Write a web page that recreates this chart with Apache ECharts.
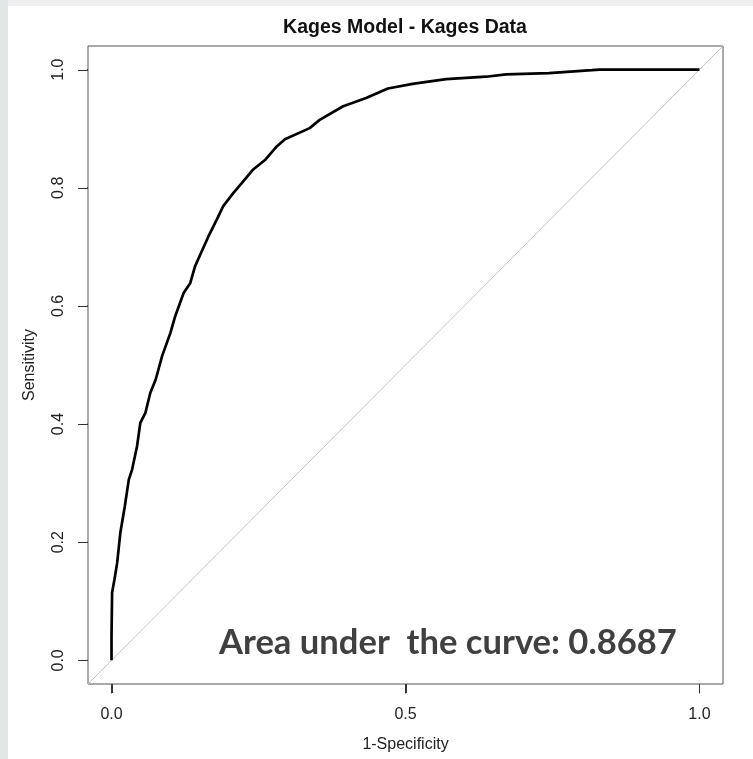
<!DOCTYPE html>
<html>
<head>
<meta charset="utf-8">
<script src="https://cdn.jsdelivr.net/npm/echarts@6/dist/echarts.min.js"></script>
<style>html,body{margin:0;padding:0;background:#fff;}#c{width:753px;height:759px;}</style>
</head>
<body>
<div id="c"></div>
<script>
// ROC curve
const fpr = [0, 0, 0.001, 0.005, 0.0096, 0.015, 0.0226, 0.0294, 0.035, 0.0435, 0.049, 0.0576, 0.066, 0.075, 0.086, 0.100, 0.1085, 0.1226, 0.134, 0.142, 0.151, 0.165, 0.179, 0.190, 0.207, 0.2215, 0.241, 0.261, 0.281, 0.295, 0.337, 0.354, 0.394, 0.433, 0.470, 0.512, 0.569, 0.637, 0.671, 0.744, 0.817, 0.83, 1.0];
const tpr = [0, 0.041, 0.115, 0.137, 0.165, 0.216, 0.261, 0.306, 0.323, 0.363, 0.402, 0.419, 0.453, 0.475, 0.515, 0.554, 0.583, 0.622, 0.639, 0.667, 0.687, 0.718, 0.746, 0.769, 0.791, 0.808, 0.831, 0.847, 0.870, 0.882, 0.901, 0.915, 0.938, 0.952, 0.968, 0.976, 0.984, 0.988, 0.992, 0.994, 0.999, 1.0, 1.0];
const diagX = [-0.04, 1.04];
const diagY = [-0.04, 1.04];
const tickValues = [0, 0.5, 1];
const yTickValues = [0, 0.2, 0.4, 0.6, 0.8, 1.0];
const titleText = 'Kages Model - Kages Data';
const xName = '1-Specificity';
const yName = 'Sensitivity';
const aucText = 'Area under  the curve: 0.8687';

const AX_MIN = -0.04, AX_MAX = 1.04;
const TICK_LEN = 0.016; // outward tick length, in axis units
const chart = echarts.init(document.getElementById('c'), null, {renderer: 'canvas'});
const labelFont = {fontFamily: 'Liberation Sans, Arial, sans-serif', fontSize: 16, color: '#222'};

const tickSeries = tickValues.map(v => ({
  type: 'line', data: [[v, AX_MIN], [v, AX_MIN - TICK_LEN]], showSymbol: false, clip: false, silent: true,
  lineStyle: {color: '#333', width: 1}, z: 5
})).concat(yTickValues.map(v => ({
  type: 'line', data: [[AX_MIN, v], [AX_MIN - TICK_LEN, v]], showSymbol: false, clip: false, silent: true,
  lineStyle: {color: '#333', width: 1}, z: 5
})));

function buildOption(extraGraphic) {
  return {
    animation: false,
    backgroundColor: '#ffffff',
    grid: {left: 88, top: 46, right: 30, bottom: 75, show: true, borderColor: '#555', borderWidth: 1, backgroundColor: 'transparent'},
    xAxis: {
      type: 'value', min: AX_MIN, max: AX_MAX,
      axisLine: {show: false, onZero: false},
      splitLine: {show: false},
      axisTick: {show: false},
      axisLabel: Object.assign({margin: 23, customValues: tickValues, formatter: v => v.toFixed(1)}, labelFont),
      name: xName, nameLocation: 'middle', nameGap: 53,
      nameTextStyle: {fontFamily: 'Liberation Sans, Arial, sans-serif', fontSize: 16, color: '#222'}
    },
    yAxis: {
      type: 'value', min: AX_MIN, max: AX_MAX,
      axisLine: {show: false, onZero: false},
      splitLine: {show: false},
      axisTick: {show: false},
      axisLabel: Object.assign({margin: 21, rotate: 90, customValues: yTickValues, formatter: v => v.toFixed(1)}, labelFont),
      name: yName, nameLocation: 'middle', nameGap: 50, nameRotate: 90,
      nameTextStyle: {fontFamily: 'Liberation Sans, Arial, sans-serif', fontSize: 16, color: '#222'}
    },
    graphic: {
      elements: [
        {type: 'rect', shape: {x: 0, y: 0, width: 753, height: 6}, style: {fill: '#eef0f0'}, silent: true, z: -10},
        {type: 'rect', shape: {x: 0, y: 0, width: 8, height: 759}, style: {fill: '#e3e6e6'}, silent: true, z: -10},
        {type: 'text', x: 405, y: 28, style: {text: titleText, fontFamily: 'Liberation Sans, Arial, sans-serif', fontWeight: 'bold', fontSize: 19.5, fill: '#111', textAlign: 'center', textVerticalAlign: 'middle'}},
        {type: 'text', x: 219, y: 643, style: {text: aucText, fontFamily: 'Lato, sans-serif', fontWeight: 'bold', fontSize: 34.6, fill: '#404040', textAlign: 'left', textVerticalAlign: 'middle'}, z: 10}
      ].concat(extraGraphic)
    },
    series: [
      {type: 'line', data: diagX.map((x, i) => [x, diagY[i]]), showSymbol: false, lineStyle: {color: '#c4c4c4', width: 1}, clip: true, silent: true},
      {type: 'line', data: fpr.map((x, i) => [x, tpr[i]]), showSymbol: false, lineStyle: {color: '#000', width: 2.7}, clip: true, silent: true}
    ].concat(tickSeries)
  };
}

chart.setOption(buildOption([]));

// Backup tick marks placed through the chart's own scales
const tickGraphics = [];
tickValues.forEach(v => {
  const p = chart.convertToPixel({xAxisIndex: 0, yAxisIndex: 0}, [v, AX_MIN]);
  if (p && isFinite(p[0]) && isFinite(p[1])) {
    const x = Math.round(p[0]) + 0.5, y = Math.round(p[1]);
    tickGraphics.push({type: 'line', shape: {x1: x, y1: y, x2: x, y2: y + 9}, style: {stroke: '#333', lineWidth: 1}, silent: true, z: 20});
  }
});
yTickValues.forEach(v => {
  const p = chart.convertToPixel({xAxisIndex: 0, yAxisIndex: 0}, [AX_MIN, v]);
  if (p && isFinite(p[0]) && isFinite(p[1])) {
    const x = Math.round(p[0]), y = Math.round(p[1]) + 0.5;
    tickGraphics.push({type: 'line', shape: {x1: x - 10, y1: y, x2: x, y2: y}, style: {stroke: '#333', lineWidth: 1}, silent: true, z: 20});
  }
});
chart.setOption(buildOption(tickGraphics), {notMerge: true});
</script>
</body>
</html>
